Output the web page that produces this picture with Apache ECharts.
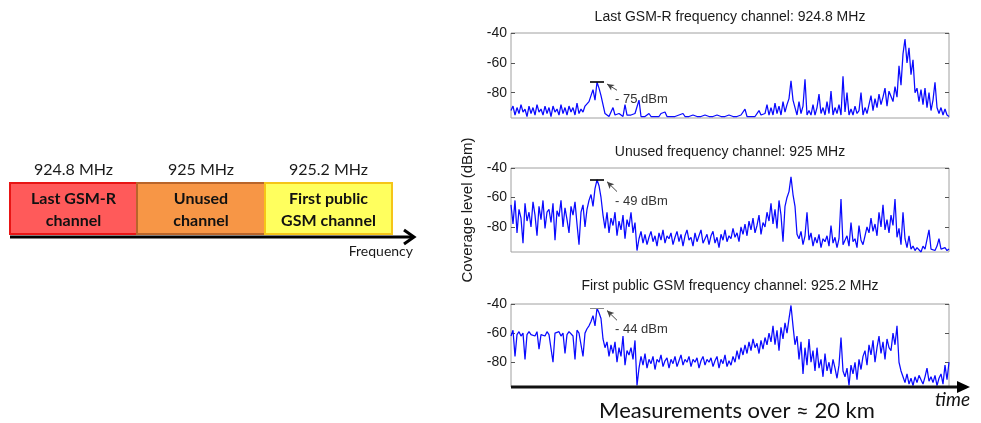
<!DOCTYPE html>
<html>
<head>
<meta charset="utf-8">
<script src="https://cdn.jsdelivr.net/npm/echarts@6/dist/echarts.min.js"></script>
<style>html,body{margin:0;padding:0;background:#fff;}#c{width:981px;height:423px;}</style>
</head>
<body>
<div id="c"></div>
<script>
const panelTitles = ['Last GSM-R frequency channel: 924.8 MHz', 'Unused frequency channel: 925 MHz', 'First public GSM frequency channel: 925.2 MHz'];
const yTicks = [-40, -60, -80];
const yMin = -97, yMax = -40;
const channelFreqs = ['924.8 MHz', '925 MHz', '925.2 MHz'];
const channelNames = [['Last GSM-R', 'channel'], ['Unused', 'channel'], ['First public', 'GSM channel']];
const peakLabels = ['- 75 dBm', '- 49 dBm', '- 44 dBm'];
const peakLevels = [-72.9, -48, -43.2];

const lastGsmR = [
-92,-89,-95,-90,-94,-88,-93,-91,-96,-89,
-94,-90,-95,-88,-93,-91,-95,-89,-94,-90,
-96,-89,-93,-91,-95,-88,-94,-90,-95,-89,
-93,-90,-95,-87,-94,-91,-93,-89,-90,-86,
-82,-78,-85,-73,-77,-82,-88,-94,-95,-96,
-96,-90,-95,-96,-94,-95,-96,-88,-95,-96,
-95,-96,-94,-95,-85,-96,-95,-96,-95,-94,
-96,-95,-96,-95,-96,-94,-95,-93,-96,-95,
-96,-95,-96,-96,-95,-96,-94,-96,-95,-96,
-96,-95,-96,-96,-95,-96,-96,-95,-96,-96,
-95,-96,-96,-95,-96,-96,-95,-96,-96,-95,
-96,-96,-95,-96,-96,-95,-96,-91,-96,-95,
-96,-95,-96,-95,-92,-95,-96,-94,-88,-95,
-90,-95,-87,-94,-89,-95,-86,-93,-88,-84,
-72,-85,-90,-95,-86,-94,-89,-71,-95,-92,
-95,-88,-95,-90,-81,-94,-90,-95,-86,-94,
-79,-95,-90,-94,-88,-95,-69,-93,-80,-95,
-91,-95,-89,-94,-92,-80,-95,-90,-94,-88,
-82,-92,-84,-90,-81,-88,-83,-77,-89,-79,
-80,-86,-76,-83,-62,-75,-54,-44,-60,-50,
-68,-58,-80,-77,-86,-78,-88,-77,-90,-80,
-92,-85,-73,-90,-94,-90,-95,-91,-95,-96
];
const unusedCh = [
-65,-78,-62,-84,-68,-74,-91,-64,-76,-70,
-80,-63,-72,-86,-66,-75,-62,-81,-70,-68,
-77,-64,-89,-69,-73,-62,-80,-67,-75,-84,
-66,-72,-63,-78,-92,-70,-65,-80,-68,-62,
-58,-66,-54,-48,-52,-60,-72,-81,-70,-84,
-74,-79,-70,-86,-76,-82,-72,-88,-75,-80,
-70,-84,-77,-96,-88,-83,-91,-85,-92,-87,
-83,-90,-86,-93,-84,-89,-82,-91,-86,-88,
-84,-92,-87,-83,-90,-85,-93,-86,-82,-89,
-87,-93,-84,-90,-86,-82,-91,-88,-85,-92,
-86,-83,-91,-87,-94,-85,-89,-82,-90,-86,
-88,-81,-87,-84,-90,-80,-85,-78,-86,-76,
-82,-74,-84,-79,-72,-85,-77,-80,-70,-76,
-64,-78,-68,-81,-62,-72,-90,-66,-60,-56,
-46,-58,-66,-85,-88,-83,-92,-86,-70,-89,
-84,-93,-87,-91,-85,-94,-88,-90,-86,-93,
-79,-91,-87,-94,-88,-61,-92,-89,-86,-93,
-77,-90,-88,-94,-79,-89,-92,-86,-80,-84,
-74,-83,-78,-86,-70,-80,-65,-82,-75,-84,
-72,-79,-61,-87,-81,-92,-70,-88,-94,-86,
-95,-93,-96,-94,-95,-97,-93,-95,-94,-82,
-95,-94,-96,-93,-88,-95,-96,-94,-96,-95
];
const firstGsm = [
-62,-58,-76,-61,-59,-62,-60,-78,-61,-59,
-61,-60,-62,-59,-71,-61,-60,-62,-59,-61,
-62,-80,-60,-61,-59,-62,-60,-74,-61,-59,
-60,-62,-78,-58,-60,-61,-76,-60,-57,-55,
-52,-48,-55,-43,-46,-50,-64,-70,-66,-76,
-68,-74,-66,-80,-70,-76,-62,-82,-72,-75,
-70,-78,-65,-96,-84,-76,-82,-74,-84,-78,
-81,-76,-85,-78,-80,-75,-83,-79,-77,-84,
-78,-81,-76,-83,-79,-75,-82,-78,-80,-76,
-83,-78,-80,-77,-84,-79,-76,-82,-78,-80,
-77,-83,-79,-76,-84,-78,-81,-75,-83,-79,
-82,-76,-80,-72,-78,-70,-75,-68,-74,-66,
-72,-64,-70,-67,-74,-65,-71,-63,-68,-60,
-66,-55,-68,-58,-72,-56,-64,-53,-60,-50,
-41,-55,-68,-62,-78,-66,-88,-70,-82,-64,
-80,-72,-86,-70,-84,-78,-90,-74,-86,-80,
-88,-78,-84,-91,-82,-63,-86,-90,-84,-96,
-82,-88,-80,-92,-78,-85,-76,-72,-82,-68,
-75,-65,-80,-70,-62,-74,-66,-78,-64,-70,
-72,-60,-68,-55,-80,-86,-90,-94,-88,-95,
-91,-96,-90,-94,-89,-92,-95,-90,-84,-93,
-90,-94,-89,-96,-91,-88,-95,-82,-92,-80
];
const seriesData = [lastGsmR, unusedCh, firstGsm];

const chart = echarts.init(document.getElementById('c'), null, {renderer: 'canvas'});
const FONT = 'Liberation Sans, Arial, sans-serif';
const gridTops = [33, 168, 304];
const gridHeights = [85, 84, 83];
const grids = [], xAxes = [], yAxes = [], series = [];
seriesData.forEach((arr, k) => {
  grids.push({left: 511, top: gridTops[k], width: 438, height: gridHeights[k], show: true, borderColor: '#a0a0a0', borderWidth: 1, backgroundColor: '#fff'});
  xAxes.push({type: 'value', gridIndex: k, min: 0, max: arr.length - 1, axisLine: {show: false}, axisTick: {show: false}, axisLabel: {show: false}, splitLine: {show: false}});
  const base = {type: 'value', gridIndex: k, min: yMin, max: yMax, splitLine: {show: false}, axisLine: {show: false}};
  yAxes.push(Object.assign({}, base, {
    position: 'left',
    axisTick: {show: true, inside: true, length: 4, lineStyle: {color: '#555'}, customValues: yTicks},
    axisLabel: {show: true, customValues: yTicks, fontFamily: FONT, fontSize: 14, color: '#1a1a1a', margin: 4},
    name: k === 1 ? 'Coverage level (dBm)' : '', nameLocation: 'middle', nameGap: 36, nameRotate: 90,
    nameTextStyle: {fontFamily: FONT, fontSize: 15, color: '#1a1a1a'}
  }));
  yAxes.push(Object.assign({}, base, {
    position: 'right',
    axisTick: {show: true, inside: true, length: 4, lineStyle: {color: '#555'}, customValues: yTicks},
    axisLabel: {show: false}
  }));
  series.push({
    type: 'line', xAxisIndex: k, yAxisIndex: 2 * k, symbol: 'none', animation: false,
    data: arr.map((v, i) => [i, v]),
    lineStyle: {color: '#0a0aff', width: 1.25},
    z: 2,
    markLine: {
      silent: true, animation: false, symbol: 'none',
      label: {show: false},
      data: [
        [{coord: [39.5, peakLevels[k]], lineStyle: {color: k === 2 ? '#888' : '#000', width: k === 2 ? 1 : 1.6, type: 'solid'}}, {coord: [46.5, peakLevels[k]]}],
        [{coord: [53, peakLevels[k] - (k === 0 ? 5.5 : 8)], symbol: 'none', lineStyle: {color: '#444', width: 1, type: 'solid'}},
         {coord: [48, peakLevels[k] - 1.3], symbol: 'arrow', symbolSize: [5, 7]}]
      ]
    },
    markPoint: {
      silent: true, animation: false, symbol: 'circle', symbolSize: 0,
      data: [{coord: [52, peakLevels[k] - (k === 0 ? 11.4 : 14.4)]}],
      label: {show: true, position: 'right', distance: 0, formatter: peakLabels[k], fontFamily: FONT, fontSize: 13, color: '#333'}
    }
  });
});

const titleY = [17, 152, 286];
const graphic = [];
panelTitles.forEach((t, k) => {
  graphic.push({type: 'text', x: 730, y: titleY[k], style: {text: t, font: '14px ' + FONT, fill: '#1a1a1a', textAlign: 'center', textVerticalAlign: 'middle'}});
});
// left channel diagram
const boxX = [10, 137, 265], boxW = [127, 128, 127];
const boxFill = ['#ff5a5a', '#f79646', '#ffff5e'];
const boxStroke = ['#e81515', '#b9652a', '#f5c518'];
const DFONT = 'Lato, Carlito, sans-serif';
boxX.forEach((x, k) => {
  graphic.push({type: 'rect', shape: {x: x, y: 183, width: boxW[k], height: 51}, style: {fill: boxFill[k], stroke: boxStroke[k], lineWidth: 2}});
  const cx = x + boxW[k] / 2;
  graphic.push({type: 'text', x: cx, y: 170, style: {text: channelFreqs[k], font: '16px ' + DFONT, fill: '#1a1a1a', textAlign: 'center', textVerticalAlign: 'middle'}});
  graphic.push({type: 'text', x: cx, y: 199, style: {text: channelNames[k][0], font: 'bold 16px ' + DFONT, fill: '#111', textAlign: 'center', textVerticalAlign: 'middle'}});
  graphic.push({type: 'text', x: cx, y: 221, style: {text: channelNames[k][1], font: 'bold 16px ' + DFONT, fill: '#111', textAlign: 'center', textVerticalAlign: 'middle'}});
});
graphic.push({type: 'line', shape: {x1: 10, y1: 237, x2: 412, y2: 237}, style: {stroke: '#000', lineWidth: 3}});
graphic.push({type: 'polyline', shape: {points: [[404, 230], [414, 237], [404, 244]]}, style: {stroke: '#000', lineWidth: 3, fill: null}});
graphic.push({type: 'text', x: 413, y: 251, style: {text: 'Frequency', font: '14px ' + DFONT, fill: '#1a1a1a', textAlign: 'right', textVerticalAlign: 'middle'}});
// time axis arrow
graphic.push({type: 'line', shape: {x1: 511, y1: 387, x2: 962, y2: 387}, style: {stroke: '#111', lineWidth: 3}, z: 10});
graphic.push({type: 'polygon', shape: {points: [[957, 381], [970, 387], [957, 393]]}, style: {fill: '#000'}, z: 10});
graphic.push({type: 'text', x: 970, y: 400, style: {text: 'time', font: 'italic 19px ' + DFONT, fill: '#111', textAlign: 'right', textVerticalAlign: 'middle'}});
graphic.push({type: 'text', x: 737, y: 411, style: {text: 'Measurements over \u2248 20 km', font: '22px ' + DFONT, fill: '#111', textAlign: 'center', textVerticalAlign: 'middle'}});

chart.setOption({
  animation: false,
  backgroundColor: '#fff',
  grid: grids, xAxis: xAxes, yAxis: yAxes, series: series,
  graphic: graphic
});
</script>
</body>
</html>
